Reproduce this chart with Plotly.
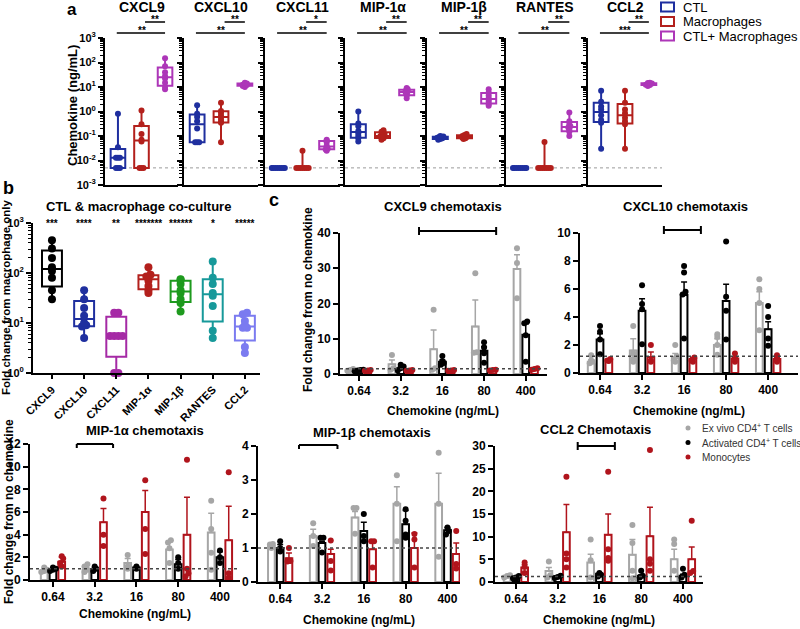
import numpy as np
import plotly.graph_objects as go

W, H = 800, 629
FONT = "Liberation Sans, Arial, sans-serif"

# ---------------- Panel a data (ng/mL) ----------------
chemokines = ["CXCL9", "CXCL10", "CXCL11", "MIP-1α", "MIP-1β", "RANTES", "CCL2"]
group_names = ["CTL", "Macrophages", "CTL+ Macrophages"]
group_colors = ["#1f2f9f", "#b3201c", "#ad36b8"]
lod_a = 0.005
ctl_values = [
    [0.005, 0.005, 0.005, 0.013, 0.013, 0.013, 0.035, 0.8],
    [0.055, 0.055, 0.055, 0.2, 0.4, 0.6, 0.8, 1.8],
    [0.005, 0.005, 0.005, 0.005, 0.005, 0.005, 0.005, 0.005],
    [0.06, 0.08, 0.1, 0.13, 0.16, 0.25, 0.32, 1.0],
    [0.07, 0.075, 0.08, 0.085, 0.09, 0.09, 0.095, 0.1],
    [0.005, 0.005, 0.005, 0.005, 0.005, 0.005, 0.005, 0.005],
    [0.03, 0.35, 0.45, 0.7, 1.2, 1.6, 2.5, 7.0],
]
mac_values = [
    [0.005, 0.005, 0.005, 0.06, 0.07, 0.12, 0.3, 1.1],
    [0.055, 0.35, 0.38, 0.5, 0.7, 0.9, 1.05, 2.3],
    [0.005, 0.005, 0.005, 0.005, 0.005, 0.005, 0.005, 0.025],
    [0.07, 0.08, 0.09, 0.1, 0.1, 0.12, 0.15, 0.17],
    [0.075, 0.08, 0.085, 0.09, 0.09, 0.1, 0.11, 0.12],
    [0.005, 0.005, 0.005, 0.005, 0.005, 0.005, 0.005, 0.057],
    [0.03, 0.3, 0.4, 0.55, 0.85, 1.2, 2.3, 7.0],
]
coc_values = [
    [8, 10, 15, 22, 28, 40, 70, 150],
    [10, 11, 11.5, 12, 12.5, 13, 14, 15],
    [0.025, 0.028, 0.03, 0.035, 0.04, 0.055, 0.065, 0.07],
    [3.5, 4.5, 5, 6, 6.5, 7, 8, 9],
    [1.7, 2, 2.5, 3, 3.5, 4.5, 6, 8],
    [0.1, 0.15, 0.18, 0.22, 0.25, 0.3, 0.4, 0.9],
    [11, 12, 12.5, 13, 13.5, 14, 14.5, 15],
]
sig_lower = ["**", "**", "**", "**", "**", "**", "***"]
sig_upper = ["**", "**", "*", "**", "**", "**", "**"]

# ---------------- Panel b data (fold change) ----------------
b_values = [
    [30, 45, 80, 110, 130, 200, 310, 450],
    [5, 8.5, 9, 10, 14, 20, 30, 45],
    [1, 1, 5.5, 5.5, 5.5, 5.5, 16, 16],
    [40, 45, 55, 70, 80, 85, 92, 130],
    [17, 25, 30, 40, 45, 60, 73, 75],
    [5, 7, 22, 35, 40, 60, 80, 170],
    [2.5, 3.3, 8, 8, 9, 11, 15, 16],
]
b_colors = ["#000000", "#1f2f9f", "#a52aa5", "#b3201c", "#1e9a1e", "#17999a", "#7b7bf0"]
b_stars = ["***", "****", "**", "*******", "******", "*", "*****"]

# ---------------- Panel c data ----------------
conc_labels = ["0.64", "3.2", "16", "80", "400"]
c_series = ["Ex vivo CD4<sup>+</sup> T cells", "Activated CD4<sup>+</sup> T cells", "Monocytes"]
c_colors = ["#a6a6a6", "#000000", "#b0141c"]

cxcl9_means = [[1.1, 2.75, 7.0, 13.5, 29.8], [1.0, 1.6, 3.5, 6.6, 11.1], [1.0, 1.0, 1.0, 1.1, 1.4]]
cxcl9_tops = [[1.3, 4.0, 12.5, 21.0, 33.8], [1.2, 2.0, 4.0, 7.8, 14.2], [1.1, 1.1, 1.1, 1.2, 1.6]]
cxcl9_points = [
    [[0.9, 1.1, 1.4], [1.2, 1.6, 5.4], [1.2, 1.6, 18.2], [6.0, 6.2, 28.6], [21.5, 31.5, 35.7]],
    [[0.8, 1.0, 1.1, 1.2], [1.0, 1.6, 2.1, 2.6], [2.6, 3.1, 3.6, 5.1], [3.2, 5.9, 7.5, 9.0], [3.5, 11.0, 14.4, 14.9]],
    [[0.9, 1.0, 1.1], [0.9, 1.0, 1.1], [0.9, 1.0, 1.1], [1.0, 1.1, 1.2], [1.2, 1.4, 1.6]],
]
cxcl10_means = [[0.8, 1.6, 1.15, 2.0, 5.0], [2.4, 4.45, 5.57, 5.14, 3.13], [0.95, 1.15, 1.0, 1.03, 1.0]]
cxcl10_tops = [[0.95, 2.45, 1.4, 2.45, 5.8], [2.8, 5.3, 6.5, 6.34, 3.66], [1.0, 1.5, 1.1, 1.15, 1.1]]
cxcl10_points = [
    [[0.7, 0.8, 0.9, 1.27], [0.8, 1.0, 1.4, 3.35], [0.8, 0.9, 1.2, 2.0], [1.3, 2.0, 2.58, 2.77], [3.06, 5.0, 6.0, 6.7]],
    [[1.34, 2.4, 2.95, 3.35], [2.06, 4.55, 4.93, 6.27], [2.46, 5.6, 5.8, 7.18, 7.65], [2.4, 4.45, 5.45, 9.4], [1.94, 2.46, 4.0, 4.78]],
    [[0.85, 0.9, 1.0], [0.8, 0.9, 2.0], [0.8, 0.9, 1.1], [0.8, 1.0, 1.39], [0.8, 0.95, 1.27]],
]
mip1a_means = [[0.85, 0.9, 1.5, 2.7, 4.2], [0.9, 0.95, 1.1, 1.4, 2.0], [1.6, 5.1, 6.0, 4.0, 3.5]]
mip1a_tops = [[1.0, 1.1, 1.9, 3.4, 5.9], [1.0, 1.1, 1.2, 1.8, 2.5], [2.0, 6.3, 7.9, 7.3, 6.5]]
mip1a_points = [
    [[0.7, 0.8, 0.9, 1.1], [0.7, 0.9, 1.2, 1.4], [1.0, 1.2, 2.2], [1.5, 2.8, 3.3, 3.5], [0.9, 2.4, 4.5, 7.0]],
    [[0.8, 0.9, 1.0, 1.1], [0.8, 1.0, 1.2], [1.0, 1.2], [1.0, 1.5, 2.0], [1.5, 2.0, 2.6]],
    [[1.2, 1.5, 1.9, 2.1], [3.0, 4.0, 7.2], [2.3, 4.5, 8.8], [0.3, 0.6, 1.0, 10.6], [0.2, 0.6, 9.5]],
]
mip1b_means = [[1.06, 1.35, 1.9, 2.3, 2.3], [1.0, 1.15, 1.5, 1.7, 1.52], [0.7, 0.82, 0.96, 1.0, 0.82]]
mip1b_tops = [[1.15, 1.55, 2.07, 2.8, 3.2], [1.1, 1.2, 1.76, 2.1, 1.6], [0.85, 0.96, 1.2, 1.44, 1.15]]
mip1b_points = [
    [[1.0, 1.1, 1.12], [1.06, 1.35, 1.73], [1.42, 2.18, 2.18], [1.2, 2.3, 3.14], [0.74, 2.3, 3.8]],
    [[0.9, 1.0, 1.2], [0.87, 1.3, 1.3], [1.2, 1.35, 2.0], [1.3, 1.4, 1.8, 2.14], [1.4, 1.5, 1.6]],
    [[0.6, 0.62, 1.0], [0.34, 0.62, 1.22], [0.43, 1.2, 1.2], [0.43, 1.25, 1.41], [0.4, 0.53, 1.5]],
]
ccl2_means = [[1.2, 2.4, 4.3, 6.0, 5.0], [0.8, 1.2, 1.8, 1.4, 1.4], [3.2, 11.0, 10.4, 10.1, 5.0]]
ccl2_tops = [[1.4, 3.2, 6.1, 9.4, 7.2], [0.9, 1.4, 2.0, 1.6, 1.7], [3.8, 17.1, 15.0, 16.5, 7.7]]
ccl2_points = [
    [[1.0, 1.3, 1.5], [1.0, 1.5, 4.5], [1.0, 4.8, 9.4], [0.8, 2.5, 8.6, 12.6], [2.5, 8.4, 9.4]],
    [[0.5, 0.8, 1.0, 1.3], [0.9, 1.1, 1.4], [1.2, 1.6, 2.0], [1.0, 1.4, 2.5], [1.0, 1.6, 2.9]],
    [[2.0, 3.3, 4.3], [3.2, 5.0, 6.3, 23.2], [4.7, 5.3, 7.2, 24.3], [2.5, 4.0, 5.0, 29.1], [2.0, 2.4, 13.5]],
]

# ---------------- helpers ----------------
def xdom(x0, x1):
    return [x0 / W, x1 / W]

def ydom(top, bot):
    return [1 - bot / H, 1 - top / H]

def pyy(y):
    return 1 - y / H

def pxx(x):
    return x / W

def swarm(vals, key, spread, maxw):
    """horizontal offsets so tied points sit side by side"""
    groups = {}
    for i, v in enumerate(vals):
        groups.setdefault(key(v), []).append(i)
    offs = [0.0] * len(vals)
    for idx in groups.values():
        k = len(idx)
        for j, i in enumerate(idx):
            offs[i] = max(-maxw, min(maxw, (j - (k - 1) / 2) * spread))
    return offs

def stats(v):
    v = np.asarray(v, float)
    q1, med, q3 = np.percentile(v, [25, 50, 75], method="weibull")
    return q1, med, q3, v.min(), v.max()

fig = go.Figure()
layout = {}
annotations = []
shapes = []

def tfont(size=12, bold=True, color="black"):
    d = dict(family=FONT, size=size, color=color)
    if bold:
        d["weight"] = "bold"
    return d

def ann(text, x, y, xref="paper", yref="paper", size=12, bold=True, color="black",
        xanchor="center", yanchor="middle", angle=0):
    annotations.append(dict(text=text, x=x, y=y, xref=xref, yref=yref, showarrow=False,
                            xanchor=xanchor, yanchor=yanchor, textangle=angle,
                            font=tfont(size, bold, color)))

log_minor = [m * 10 ** e for e in range(-3, 3) for m in range(2, 10)]

# ---------------- Panel a ----------------
a_x = [(105, 178), (184, 258), (265, 340), (345, 420), (427, 502), (506, 583), (588, 662)]
a_top, a_bot = 38, 185
for i, chem in enumerate(chemokines):
    n = i + 1
    xa, ya = f"x{n}", f"y{n}"
    layout[f"xaxis{n}"] = dict(domain=xdom(*a_x[i]), anchor=ya, range=[-0.55, 2.55], automargin=False,
                               showline=True, linewidth=2, linecolor="black", ticks="",
                               showticklabels=False, showgrid=False, zeroline=False)
    layout[f"yaxis{n}"] = dict(domain=ydom(a_top, a_bot), anchor=xa, type="log", range=[-3, 3],
                               automargin=False,
                               showline=True, linewidth=2, linecolor="black",
                               tickvals=[10 ** e for e in range(-3, 4)],
                               ticktext=[f"10<sup>{e}</sup>" for e in range(-3, 4)],
                               ticks="outside", ticklen=5, tickwidth=2, tickcolor="black",
                               showticklabels=(i == 0), tickfont=tfont(11),
                               minor=dict(tickvals=log_minor, ticks="outside", ticklen=3,
                                          tickwidth=1, tickcolor="black"),
                               showgrid=False, zeroline=False)
    for g, vals in enumerate([ctl_values[i], mac_values[i], coc_values[i]]):
        q1, med, q3, lo, hi = stats(vals)
        fig.add_trace(go.Box(x=[g], q1=[q1], median=[med], q3=[q3], lowerfence=[lo], upperfence=[hi],
                             width=0.62, whiskerwidth=0, boxpoints=False,
                             line=dict(color=group_colors[g], width=2), fillcolor="rgba(255,255,255,0)",
                             xaxis=xa, yaxis=ya, showlegend=False, hoverinfo="skip"))
        offs = swarm(vals, lambda v: round(np.log10(v) / 0.08), 0.085, 0.27)
        fig.add_trace(go.Scatter(x=[g + o for o in offs], y=vals, mode="markers",
                                 marker=dict(color=group_colors[g], size=6),
                                 xaxis=xa, yaxis=ya, showlegend=False, cliponaxis=False))
    shapes.append(dict(type="line", xref=xa, yref=ya, x0=-0.55, x1=2.55, y0=lod_a, y1=lod_a,
                       line=dict(color="#9a9a9a", width=1, dash="dot"), layer="below"))
    shapes.append(dict(type="line", xref=xa, yref="paper", x0=-0.05, x1=2.0, y0=pyy(33), y1=pyy(33),
                       line=dict(color="black", width=1.5)))
    shapes.append(dict(type="line", xref=xa, yref="paper", x0=1.15, x1=2.0, y0=pyy(22), y1=pyy(22),
                       line=dict(color="black", width=1.5)))
    ann(sig_lower[i], 1.0, pyy(30.5), xref=xa, size=10)
    ann(sig_upper[i], 1.57, pyy(19.5), xref=xa, size=10)
    ann(chem, pxx((a_x[i][0] + a_x[i][1]) / 2), pyy(7), size=14)

ann("Chemokine (ng/mL)", pxx(72), pyy(106), size=13, angle=-90)
ann("a", pxx(72), pyy(9.5), size=17)
for g, name in enumerate(group_names):
    yc = 7 + g * 14.5
    shapes.append(dict(type="rect", xref="paper", yref="paper", x0=pxx(661), x1=pxx(674),
                       y0=pyy(yc + 4.5), y1=pyy(yc - 4.5), line=dict(color=group_colors[g], width=2)))
    ann(name, pxx(681), pyy(yc), size=13, bold=False, xanchor="left")

# ---------------- Panel b ----------------
layout["xaxis8"] = dict(domain=xdom(33, 260), anchor="y8", range=[-0.59, 6.47], automargin=False,
                        tickvals=list(range(7)), ticktext=chemokines, tickangle=-45,
                        tickfont=tfont(11), ticks="outside", ticklen=4, tickwidth=1.5, tickcolor="black",
                        showline=True, linewidth=2, linecolor="black", showgrid=False, zeroline=False)
layout["yaxis8"] = dict(domain=ydom(223, 373), anchor="x8", type="log", range=[0, 3], automargin=False,
                        tickvals=[1, 10, 100, 1000], ticktext=[f"10<sup>{e}</sup>" for e in range(4)],
                        ticks="outside", ticklen=5, tickwidth=2, tickcolor="black", tickfont=tfont(11),
                        minor=dict(tickvals=[m * 10 ** e for e in range(0, 3) for m in range(2, 10)],
                                   ticks="outside", ticklen=3, tickwidth=1, tickcolor="black"),
                        showline=True, linewidth=2, linecolor="black", showgrid=False, zeroline=False)
for i, vals in enumerate(b_values):
    q1, med, q3, lo, hi = stats(vals)
    fig.add_trace(go.Box(x=[i], q1=[q1], median=[med], q3=[q3], lowerfence=[lo], upperfence=[hi],
                         width=0.62, whiskerwidth=0, boxpoints=False,
                         line=dict(color=b_colors[i], width=2), fillcolor="rgba(255,255,255,0)",
                         xaxis="x8", yaxis="y8", showlegend=False, hoverinfo="skip"))
    offs = swarm(vals, lambda v: round(np.log10(v) / 0.05), 0.13, 0.3)
    fig.add_trace(go.Scatter(x=[i + o for o in offs], y=vals, mode="markers",
                             marker=dict(color=b_colors[i], size=8),
                             xaxis="x8", yaxis="y8", showlegend=False, cliponaxis=False))
    ann(b_stars[i], i, pyy(224), xref="x8", size=10)
ann("CTL & macrophage co-culture", pxx(138), pyy(206), size=13)
ann("Fold change from macrophage only", pxx(6), pyy(298), size=11.5, angle=-90)
ann("b", pxx(8), pyy(188), size=18)

# ---------------- Panel c ----------------
c_panels = [
    dict(title="CXCL9 chemotaxis", means=cxcl9_means, tops=cxcl9_tops, pts=cxcl9_points,
         px=(340, 547), py=(233, 374), yr=40, dt=10, xr=[-0.456, 4.51], ref=1.5,
         br=(1.44, 3.29), brd="both", bry=231, ty=207, tx=443, xt=411),
    dict(title="CXCL10 chemotaxis", means=cxcl10_means, tops=cxcl10_tops, pts=cxcl10_points,
         px=(580, 798), py=(233, 373), yr=10, dt=2, xr=[-0.476, 4.71], ref=1.2,
         br=(1.52, 2.40), brd="both", bry=230, ty=207, tx=685, xt=411),
    dict(title="MIP-1α chemotaxis", means=mip1a_means, tops=mip1a_tops, pts=mip1a_points,
         px=(30, 240), py=(444, 580), yr=12, dt=2, xr=[-0.55, 4.48], ref=1.0,
         br=(0.57, 1.44), brd="down", bry=444, ty=430, tx=145, xt=614),
    dict(title="MIP-1β chemotaxis", means=mip1b_means, tops=mip1b_tops, pts=mip1b_points,
         px=(258, 460), py=(446, 582), yr=4, dt=1, xr=[-0.53, 4.3], ref=1.0,
         br=(0.45, 1.37), brd="down", bry=445, ty=432, tx=372, xt=620),
    dict(title="CCL2 Chemotaxis", means=ccl2_means, tops=ccl2_tops, pts=ccl2_points,
         px=(495, 703), py=(446, 582), yr=30, dt=5, xr=[-0.5, 4.48], ref=1.2,
         br=(1.48, 2.37), brd="both", bry=446, ty=429, tx=595, xt=620),
]
series_off = [-0.21, 0.0, 0.21]
for k, p in enumerate(c_panels):
    n = 9 + k
    xa, ya = f"x{n}", f"y{n}"
    layout[f"xaxis{n}"] = dict(domain=xdom(*p["px"]), anchor=ya, range=p["xr"], automargin=False,
                               tickvals=list(range(5)), ticktext=conc_labels, tickfont=tfont(12),
                               ticks="outside", ticklen=5, tickwidth=2, tickcolor="black",
                               showline=True, linewidth=2, linecolor="black", showgrid=False, zeroline=False)
    layout[f"yaxis{n}"] = dict(domain=ydom(*p["py"]), anchor=xa, range=[0, p["yr"]], dtick=p["dt"],
                               automargin=False,
                               tickfont=tfont(12), ticks="outside", ticklen=5, tickwidth=2, tickcolor="black",
                               showline=True, linewidth=2, linecolor="black", showgrid=False, zeroline=False)
    for s in range(3):
        xs = [j + series_off[s] for j in range(5)]
        means = p["means"][s]
        tops = p["tops"][s]
        fig.add_trace(go.Bar(x=xs, y=means, width=0.16,
                             marker=dict(color="white", line=dict(color=c_colors[s], width=2)),
                             error_y=dict(type="data", symmetric=False,
                                          array=[t - m for t, m in zip(tops, means)],
                                          arrayminus=[0] * 5, color=c_colors[s], thickness=1.5, width=3),
                             xaxis=xa, yaxis=ya, showlegend=False, hoverinfo="skip"))
        for j in range(5):
            vals = p["pts"][s][j]
            offs = swarm(vals, lambda v, r=p["yr"]: round(v / (r / 28)), 0.07, 0.12)
            fig.add_trace(go.Scatter(x=[xs[j] + o for o in offs], y=vals, mode="markers",
                                     marker=dict(color=c_colors[s], size=6),
                                     xaxis=xa, yaxis=ya, showlegend=False, cliponaxis=False))
    shapes.append(dict(type="line", xref=xa, yref=ya, x0=p["xr"][0], x1=p["xr"][1], y0=p["ref"], y1=p["ref"],
                       line=dict(color="#444444", width=1.5, dash="dot")))
    b0, b1 = p["br"]
    yb = p["bry"]
    shapes.append(dict(type="line", xref=xa, yref="paper", x0=b0, x1=b1, y0=pyy(yb), y1=pyy(yb),
                       line=dict(color="black", width=2)))
    dy_up = 0 if p["brd"] == "down" else 4
    for bx in (b0, b1):
        shapes.append(dict(type="line", xref=xa, yref="paper", x0=bx, x1=bx, y0=pyy(yb + 4), y1=pyy(yb - dy_up),
                           line=dict(color="black", width=2)))
    cx = (p["px"][0] + p["px"][1]) / 2
    ann(p["title"], pxx(p["tx"]), pyy(p["ty"]), size=13)
    ann("Chemokine (ng/mL)", pxx(cx), pyy(p["xt"]), size=12)

ann("Fold change from no chemokine", pxx(308), pyy(300), size=12, angle=-90)
ann("Fold change from no chemokine", pxx(9), pyy(512), size=12, angle=-90)
ann("c", pxx(274), pyy(200), size=18)
for s, name in enumerate(c_series):
    yc = 428 + s * 14.5
    shapes.append(dict(type="circle", xref="paper", yref="paper", x0=pxx(685.5), x1=pxx(690.5),
                       y0=pyy(yc + 2.5), y1=pyy(yc - 2.5), fillcolor=c_colors[s], line=dict(width=0)))
    ann(name, pxx(700), pyy(yc), size=10, bold=False, color="#333333", xanchor="left")

fig.update_layout(width=W, height=H, margin=dict(l=0, r=0, t=0, b=0, pad=0, autoexpand=False),
                  plot_bgcolor="white", paper_bgcolor="white", showlegend=False,
                  barmode="overlay", annotations=annotations, shapes=shapes,
                  font=dict(family=FONT, color="black"), **layout)
fig.write_html("out.html", config={"responsive": False, "displayModeBar": False},
               post_script="document.body.style.margin='0';document.body.style.padding='0';")
